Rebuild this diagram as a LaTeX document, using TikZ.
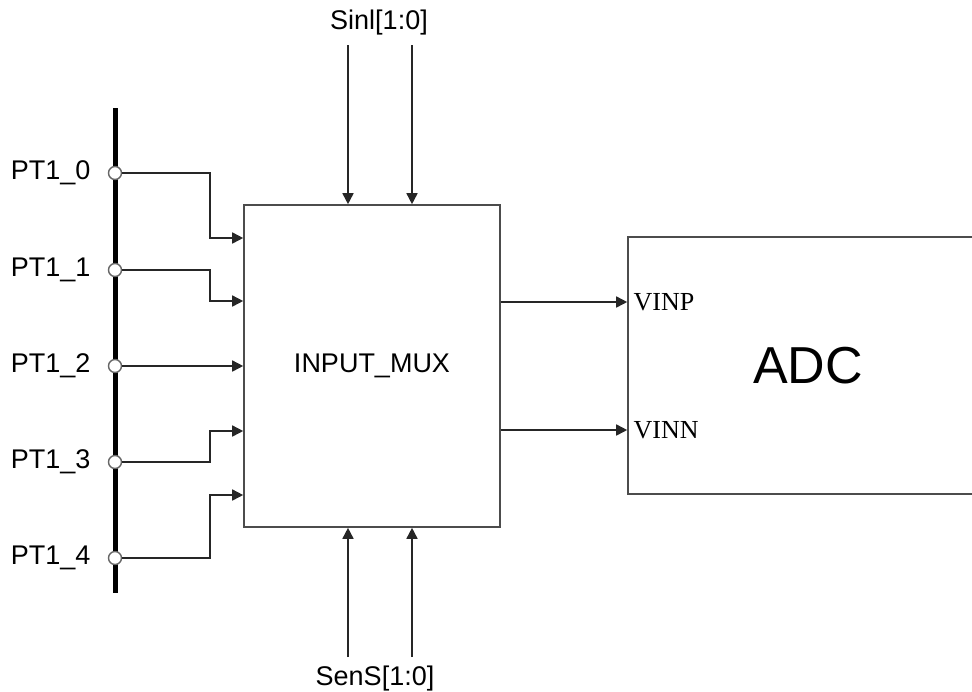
\documentclass[tikz,border=0pt]{standalone}
\usepackage{fontspec}
\setmainfont{Liberation Sans}
\newfontfamily\portfont{Liberation Serif}
\usetikzlibrary{arrows.meta,positioning}

\begin{document}
\begin{tikzpicture}[x=0.5pt,y=-0.5pt,
    blockbox/.style={draw=black!70,line width=0.8pt,inner sep=0pt},
    sig/.style={draw=black!85,line width=0.8pt,
      -{Triangle[length=5.5pt,width=5.5pt]}},
    pin/.style={circle,draw=black!60,fill=white,line width=0.7pt,
      minimum size=6.5pt,inner sep=0pt},
    pinlabel/.style={font=\fontsize{13.5}{16}\selectfont,inner sep=0pt},
    portlabel/.style={font=\portfont\fontsize{13}{15}\selectfont,inner sep=0pt}
  ]
    \useasboundingbox (0,0) rectangle (972,691);

    % blocks
    \node[blockbox,minimum width=128pt,minimum height=161pt,
      font=\fontsize{13.5}{16}\selectfont] (mux) at (372,366) {INPUT\_MUX};
    \node[blockbox,minimum width=180pt,minimum height=128.5pt,
      font=\fontsize{26}{30}\selectfont] (adc) at (808,365.5) {ADC};

    % port bus
    \draw[line width=2.5pt] (115,108) -- (115,593);
    \node[pin] (pin0) at (115,173) {};
    \node[pin] (pin1) at (115,270) {};
    \node[pin] (pin2) at (115,366) {};
    \node[pin] (pin3) at (115,462) {};
    \node[pin] (pin4) at (115,558) {};
    \node[pinlabel,left=8.5pt of pin0] {PT1\_0};
    \node[pinlabel,left=8.5pt of pin1] {PT1\_1};
    \node[pinlabel,left=8.5pt of pin2] {PT1\_2};
    \node[pinlabel,left=8.5pt of pin3] {PT1\_3};
    \node[pinlabel,left=8.5pt of pin4] {PT1\_4};

    % mux inputs
    \coordinate (in0) at (mux.west |- 0,238);
    \coordinate (in1) at (mux.west |- 0,301);
    \coordinate (in2) at (mux.west |- pin2);
    \coordinate (in3) at (mux.west |- 0,431);
    \coordinate (in4) at (mux.west |- 0,495);
    \draw[sig] (pin0) -| ([xshift=-16.5pt]in0) -- (in0);
    \draw[sig] (pin1) -| ([xshift=-16.5pt]in1) -- (in1);
    \draw[sig] (pin2) -- (in2);
    \draw[sig] (pin3) -| ([xshift=-16.5pt]in3) -- (in3);
    \draw[sig] (pin4) -| ([xshift=-16.5pt]in4) -- (in4);

    % select lines
    \node[pinlabel] (sinl) at (379,23) {Sinl[1:0]};
    \coordinate (sinl0) at (348,45);
    \coordinate (sinl1) at (412,45);
    \draw[sig] (sinl0) -- (sinl0 |- mux.north);
    \draw[sig] (sinl1) -- (sinl1 |- mux.north);
    \node[pinlabel] (sens) at (375,679) {SenS[1:0]};
    \coordinate (sens0) at (348,657);
    \coordinate (sens1) at (412,657);
    \draw[sig] (sens0) -- (sens0 |- mux.south);
    \draw[sig] (sens1) -- (sens1 |- mux.south);

    % adc inputs
    \coordinate (outp) at (mux.east |- 0,302);
    \coordinate (outn) at (mux.east |- 0,430);
    \draw[sig] (outp) -- (outp -| adc.west);
    \draw[sig] (outn) -- (outn -| adc.west);
    \node[portlabel,anchor=west] (vinp) at ([xshift=3pt]outp -| adc.west) {VINP};
    \node[portlabel,anchor=west] (vinn) at ([xshift=3pt]outn -| adc.west) {VINN};
  \end{tikzpicture}
\end{document}
